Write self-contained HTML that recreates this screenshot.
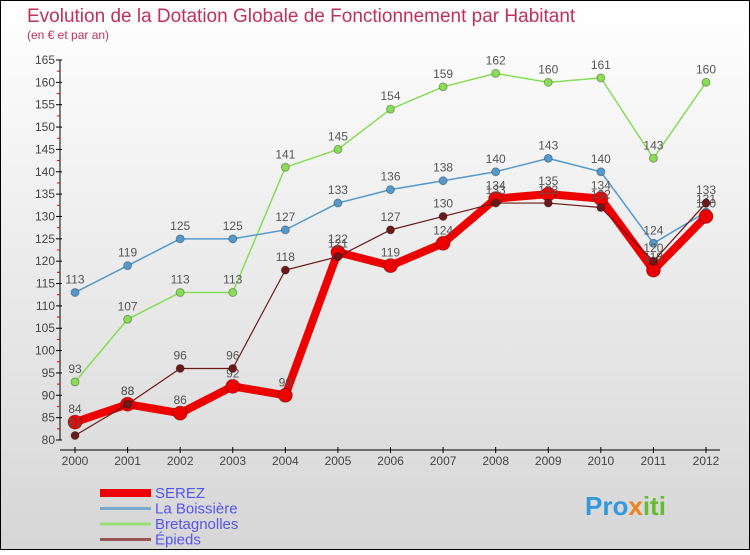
<!DOCTYPE html>
<html><head><meta charset="utf-8"><style>
body{margin:0}
#c{width:750px;height:550px;position:relative;font-family:"Liberation Sans",sans-serif;}
</style></head><body>
<div id="c">
<svg id="s" width="750" height="550" xmlns="http://www.w3.org/2000/svg">
<defs><linearGradient id="bg" x1="0" y1="0" x2="0" y2="1"><stop offset="0" stop-color="#ffffff"/><stop offset="1" stop-color="#d6d6d6"/></linearGradient></defs>
<rect x="0.5" y="0.5" width="749" height="549" fill="url(#bg)" stroke="#000"/>
<text x="27" y="22" font-size="19" fill="#c0315a">Evolution de la Dotation Globale de Fonctionnement par Habitant</text>
<text x="27" y="39" font-size="12" fill="#c0315a">(en € et par an)</text>
<g id="axes"></g><g id="series"></g><g id="legend"></g>
<text x="585" y="515" font-size="26" font-weight="bold" fill="#3399dd">Pro<tspan fill="#f08020">x</tspan><tspan fill="#66bb33">iti</tspan></text>
</svg>
</div>
<script>
const years=[2000,2001,2002,2003,2004,2005,2006,2007,2008,2009,2010,2011,2012];
const serez=[84,88,86,92,90,122,119,124,134,135,134,118,130];
const boissiere=[113,119,125,125,127,133,136,138,140,143,140,124,131];
const bretagnolles=[93,107,113,113,141,145,154,159,162,160,161,143,160];
const epieds=[81,88,96,96,118,121,127,130,133,133,132,120,133];
const yTicks=[80,85,90,95,100,105,110,115,120,125,130,135,140,145,150,155,160,165];
const NS="http://www.w3.org/2000/svg";
const X=i=>75+i*(706-75)/12;
const Y=v=>440-(v-80)*(380/85);
function mk(p,t,a){const e=document.createElementNS(NS,t);for(const k in a)e.setAttribute(k,a[k]);p.appendChild(e);return e;}
const ax=document.getElementById('axes');
const yl=mk(ax,'line',{x1:60,y1:Y(165),x2:60,y2:Y(80),stroke:'#000'});


const xl=mk(ax,'line',{x1:60,y1:450,x2:720,y2:450,stroke:'#000'});


yTicks.forEach(v=>{
  mk(ax,'line',{x1:56,y1:Y(v),x2:62,y2:Y(v),stroke:'#000'});
  if(v<165) mk(ax,'line',{x1:57,y1:Y(v+2.5),x2:60,y2:Y(v+2.5),stroke:'#e00'});
  const t=mk(ax,'text',{x:55,y:Y(v)+4,'font-size':12,fill:'#444','text-anchor':'end'});
  t.textContent=v;
  
  
});
years.forEach((y,i)=>{
  mk(ax,'line',{x1:X(i),y1:447,x2:X(i),y2:453,stroke:'#000'});
  const t=mk(ax,'text',{x:X(i),y:465,'font-size':12,fill:'#444','text-anchor':'middle'});
  t.textContent=y;
  
  
});
const sg=document.getElementById('series');
function draw(vals,color,w,r,name){
  const g=mk(sg,'g',{});
  
  
  mk(g,'polyline',{points:vals.map((v,i)=>X(i)+','+Y(v)).join(' '),fill:'none',stroke:color,'stroke-width':w,'stroke-linejoin':'round'});
  vals.forEach((v,i)=>{
    const c=mk(g,'circle',{cx:X(i),cy:Y(v),r:r,fill:color,stroke:'rgba(0,0,0,0.3)'});
    
    
    const t=mk(g,'text',{x:X(i),y:Y(v)-9,'font-size':12,fill:'#555','text-anchor':'middle'});
    t.textContent=v;
    
    
  });
}
draw(bretagnolles,'#88dd55',1.5,4,'bretagnolles');
draw(boissiere,'#5599cc',1.5,4,'la-boissiere');
draw(serez,'#ee0000',8,7,'serez');
draw(epieds,'#6b1a1a',1.2,4,'epieds');
const lg=document.getElementById('legend');
const items=[['SEREZ','#ee0000',8],['La Boissière','#7aaacc',3],['Bretagnolles','#99dd77',3],['Épieds','#995555',3]];
items.forEach((it,k)=>{
  const y=492+k*15.5;
  const g=mk(lg,'g',{});
  
  
  mk(g,'line',{x1:100,y1:y+1,x2:151,y2:y+1,stroke:it[1],'stroke-width':it[2]});
  const t=mk(g,'text',{x:155,y:y+6,'font-size':15,fill:'#5555ee'});
  t.textContent=it[0];
});
</script>
</body></html>
